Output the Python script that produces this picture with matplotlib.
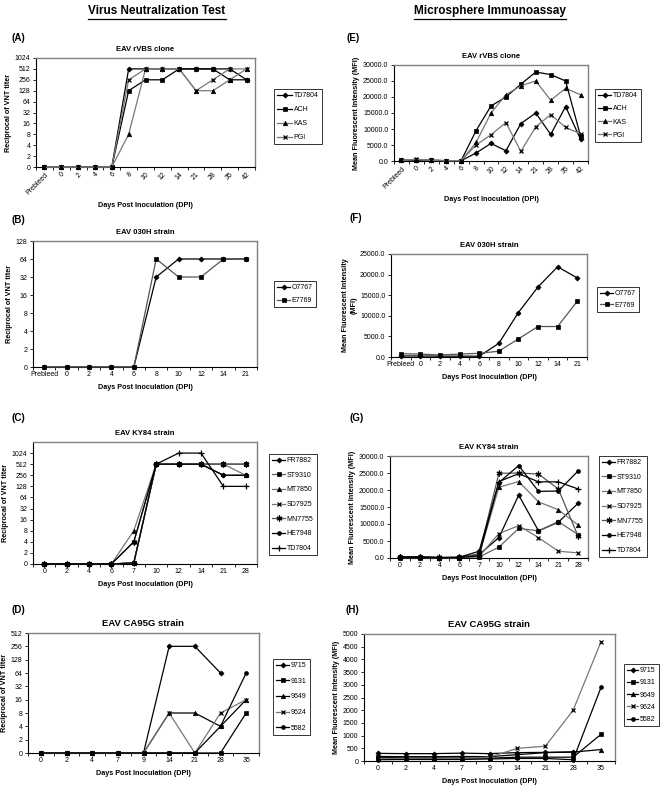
import numpy as np
import matplotlib
matplotlib.use('Agg')
import matplotlib.pyplot as plt
from matplotlib.lines import Line2D
from matplotlib.ticker import FixedLocator, FuncFormatter

plt.rcParams['font.family'] = ['Liberation Sans', 'DejaVu Sans']

nan = np.nan

# ---------------- data ----------------
cats_AE = ['Prebleed', '0', '2', '4', '6', '8', '10', '12', '14', '21', '28', '35', '42']
cats_BF = ['Prebleed', '0', '2', '4', '6', '8', '10', '12', '14', '21']
cats_CG = ['0', '2', '4', '6', '7', '10', '12', '14', '21', '28']
cats_DH = ['0', '2', '4', '7', '9', '14', '21', '28', '35']

names_AE = ['TD7804', 'ACH', 'KAS', 'PGI']
names_BF = ['O7767', 'E7769']
names_CG = ['FR7882', 'ST9310', 'MT7850', 'SD7925', 'MN7755', 'HE7948', 'TD7804']
names_DH = ['9715', '9131', '9649', '9624', '5582']

# (A) VNT, EAV rVBS clone
vnt_A_TD7804 = [0, 0, 0, 0, 0, 512, 512, 512, 512, 512, 512, 512, 256]
vnt_A_ACH = [0, 0, 0, 0, 0, 128, 256, 256, 512, 512, 512, 256, 256]
vnt_A_KAS = [0, 0, 0, 0, 0, 8, 512, 512, 512, 128, 128, 256, 512]
vnt_A_PGI = [0, 0, 0, 0, 0, 256, 512, 512, 512, 128, 256, 512, 512]

# (E) MFI, EAV rVBS clone
mfi_E_TD7804 = [200, 300, 200, 100, 100, 2500, 5500, 3200, 11700, 15000, 8300, 17000, 6800]
mfi_E_ACH = [200, 300, 200, 100, 100, 9500, 17200, 20000, 24000, 27800, 27000, 25000, 7800]
mfi_E_KAS = [200, 400, 200, 100, 100, 5800, 15000, 20700, 23500, 25000, 19000, 22700, 20700]
mfi_E_PGI = [300, 500, 300, 100, 100, 5000, 8200, 12000, 3000, 10700, 14500, 10500, 8500]

# (B) VNT, EAV 030H strain
vnt_B_O7767 = [0, 0, 0, 0, 0, 32, 64, 64, 64, 64]
vnt_B_E7769 = [0, 0, 0, 0, 0, 64, 32, 32, 64, 64]

# (F) MFI, EAV 030H strain
mfi_F_O7767 = [250, 250, 200, 200, 200, 3300, 10800, 17000, 21900, 19200]
mfi_F_E7769 = [800, 700, 500, 700, 900, 1400, 4400, 7400, 7400, 13500]

# (C) VNT, EAV KY84 strain
vnt_C_FR7882 = [0, 0, 0, 0, 0.2, 512, 512, 512, 256, 256]
vnt_C_ST9310 = [0, 0, 0, 0, 0.2, 512, 512, 512, 512, 512]
vnt_C_MT7850 = [0, 0, 0, 0, 8, 512, 512, 512, 512, 256]
vnt_C_SD7925 = [0, 0, 0, 0, 0.2, 512, 512, 512, 512, 512]
vnt_C_MN7755 = [0, 0, 0, 0, 4, 512, 512, 512, 512, 512]
vnt_C_HE7948 = [0, 0, 0, 0, 4, 512, 512, 512, 256, 256]
vnt_C_TD7804 = [0, 0, 0, 0, 0.2, 512, 1024, 1024, 128, 128]

# (G) MFI, EAV KY84 strain
mfi_G_FR7882 = [300, 300, 100, 200, 1000, 6000, 18500, 8000, 10500, 16100]
mfi_G_ST9310 = [100, 100, 100, 100, 300, 3200, 8700, 8000, 10700, 6900]
mfi_G_MT7850 = [200, 200, 100, 100, 800, 20800, 22500, 16500, 14200, 9700]
mfi_G_SD7925 = [300, 300, 100, 200, 500, 7200, 9500, 6000, 2000, 1500]
mfi_G_MN7755 = [400, 400, 200, 200, 1200, 24900, 25000, 24700, 20300, 6400]
mfi_G_HE7948 = [300, 300, 100, 200, 2000, 22200, 27200, 19600, 19700, 25600]
mfi_G_TD7804 = [200, 200, 100, 100, 700, 22500, 24800, 22400, 22400, 20300]

# (D) VNT, EAV CA95G strain
vnt_D_9715 = [0, 0, 0, 0, 0, 256, 256, 64, nan]
vnt_D_9131 = [0, 0, 0, 0, 0, 0, 0, 0, 8]
vnt_D_9649 = [0, 0, 0, 0, 0, 8, 8, 4, 16]
vnt_D_9624 = [0, 0, 0, 0, 0, 8, 0, 8, 16]
vnt_D_5582 = [0, 0, 0, 0, 0, 0, 0, 4, 64]

# (H) MFI, EAV CA95G strain
mfi_H_9715 = [300, 290, 290, 310, 290, 330, 340, 360, nan]
mfi_H_9131 = [150, 120, 120, 120, 110, 150, 150, 150, 1050]
mfi_H_9649 = [180, 170, 170, 180, 170, 250, 330, 350, 450]
mfi_H_9624 = [100, 100, 100, 100, 150, 500, 580, 2000, 4700]
mfi_H_5582 = [50, 60, 60, 60, 80, 100, 100, 50, 2900]

# ---------------- styles ----------------
AST = (6, 2, 0)
sty_AE = [('D', 'black'), ('s', 'black'), ('^', '#777777'), ('x', '#777777')]
sty_BF = [('D', 'black'), ('s', '#555555')]
sty_CG = [('D', 'black'), ('s', '#666666'), ('^', '#777777'), ('x', '#777777'),
          (AST, '#555555'), ('o', 'black'), ('+', 'black')]
sty_DH = [('D', 'black'), ('s', 'black'), ('^', 'black'), ('x', '#777777'), ('o', 'black')]
msizes = {'D': 2.6, 's': 2.8, '^': 3.2, 'x': 3.4, 'o': 2.8, '+': 4.5}

W, H = 664, 789
fig = plt.figure(figsize=(W / 100, H / 100), dpi=100)


def rect(x0, y0, x1, y1):
    return [x0 / W, 1 - y1 / H, (x1 - x0) / W, (y1 - y0) / H]


def fwd(v):
    v = np.asarray(v, dtype=float)
    return np.where(v >= 2, np.log2(np.maximum(v, 2)), v / 2)


def inv(p):
    p = np.asarray(p, dtype=float)
    return np.where(p >= 1, 2 ** np.minimum(p, 60), p * 2)


def panel(box, cats, names, series, styles, title, kind, ymax, yticks,
          leg_xy, leg_space, label, label_xy, xlabel=True, rot=0,
          title_size=5.5, ylabel=None, yfmt='%.1f', hlen=1.9):
    ax = fig.add_axes(rect(*box))
    x = np.arange(len(cats))
    if kind == 'vnt':
        ax.set_yscale('function', functions=(fwd, inv))
    for name, vals, (m, c) in zip(names, series, styles):
        ms = msizes.get(m, 4.2) if isinstance(m, str) else 4.2
        ax.plot(x, vals, color=c, lw=0.9, marker=m, ms=ms, mfc='black', mec='black',
                mew=0.9 if m in ('x', '+') or not isinstance(m, str) else 0.5,
                label=name, clip_on=False, zorder=3)
    ax.set_xlim(-0.5, len(cats) - 0.5)
    ax.set_ylim(0, ymax)
    ax.yaxis.set_major_locator(FixedLocator(yticks))
    if kind == 'vnt':
        ax.yaxis.set_major_formatter(FuncFormatter(lambda v, p: '%d' % round(v)))
    else:
        ax.yaxis.set_major_formatter(FuncFormatter(lambda v, p: yfmt % v))
    ax.yaxis.set_minor_locator(FixedLocator([]))
    ax.set_xticks(x)
    ax.set_xticklabels(cats, rotation=rot, ha='right' if rot else 'center',
                       rotation_mode='anchor' if rot else 'default')
    ax.xaxis.set_minor_locator(FixedLocator(np.arange(len(cats) + 1) - 0.5))
    ax.tick_params(axis='x', which='major', length=0, labelsize=5, pad=3)
    ax.tick_params(axis='x', which='minor', length=2, width=0.6, direction='out')
    ax.tick_params(axis='y', which='major', length=2, width=0.6, labelsize=5, pad=2)
    for s in ['left', 'bottom']:
        ax.spines[s].set_linewidth(0.8)
        ax.spines[s].set_color('black')
    for s in ['top', 'right']:
        ax.spines[s].set_linewidth(1.0)
        ax.spines[s].set_color('#808080')
    ax.set_title(title, fontsize=title_size, fontweight='bold', pad=5)
    if xlabel:
        ax.set_xlabel('Days Post Inoculation (DPI)', fontsize=5.2, fontweight='bold', labelpad=4)
    ax.set_ylabel(ylabel if ylabel else ('Reciprocal of VNT titer' if kind == 'vnt'
                                        else 'Mean Fluorescent Intensity (MFI)'),
                  fontsize=5.2, fontweight='bold', labelpad=2)
    leg = ax.legend(loc='upper left', bbox_to_anchor=(leg_xy[0] / W, 1 - leg_xy[1] / H),
                    bbox_transform=fig.transFigure, fontsize=5, frameon=True,
                    fancybox=False, edgecolor='black', handlelength=hlen,
                    labelspacing=leg_space, borderpad=0.45, handletextpad=0.2,
                    borderaxespad=0)
    leg.get_frame().set_linewidth(0.7)
    fig.text(label_xy[0] / W, 1 - label_xy[1] / H, label, fontsize=7, fontweight='bold',
             ha='left', va='center')
    return ax


vnt_ticks_10 = [0, 2, 4, 8, 16, 32, 64, 128, 256, 512, 1024]

# (A)
panel((36, 58, 255, 167), cats_AE, names_AE,
      [vnt_A_TD7804, vnt_A_ACH, vnt_A_KAS, vnt_A_PGI], sty_AE,
      'EAV rVBS clone', 'vnt', 1024, vnt_ticks_10, (274, 89), 1.0,
      '(A)', (11, 38), rot=45, hlen=2.2)
# (E)
panel((394, 65, 588, 161), cats_AE, names_AE,
      [mfi_E_TD7804, mfi_E_ACH, mfi_E_KAS, mfi_E_PGI], sty_AE,
      'EAV rVBS clone', 'mfi', 30000, list(range(0, 30001, 5000)), (595, 89), 0.9,
      '(E)', (347, 38), rot=45)
# (B)
panel((33, 241, 257, 367), cats_BF, names_BF,
      [vnt_B_O7767, vnt_B_E7769], sty_BF,
      'EAV 030H strain', 'vnt', 128, [0, 2, 4, 8, 16, 32, 64, 128], (274, 281), 0.85,
      '(B)', (11, 220))
# (F)
panel((391, 254, 587, 357), cats_BF, names_BF,
      [mfi_F_O7767, mfi_F_E7769], sty_BF,
      'EAV 030H strain', 'mfi', 25000, list(range(0, 25001, 5000)), (597, 287), 0.65,
      '(F)', (349, 218), ylabel='Mean Fluorescent Intensity\n(MFI)')
# (C)
panel((33, 442, 257, 564), cats_CG, names_CG,
      [vnt_C_FR7882, vnt_C_ST9310, vnt_C_MT7850, vnt_C_SD7925, vnt_C_MN7755,
       vnt_C_HE7948, vnt_C_TD7804], sty_CG,
      'EAV KY84 strain', 'vnt', 2048, vnt_ticks_10, (269, 454), 1.1,
      '(C)', (11, 418))
# (G)
panel((390, 456, 588, 558), cats_CG, names_CG,
      [mfi_G_FR7882, mfi_G_ST9310, mfi_G_MT7850, mfi_G_SD7925, mfi_G_MN7755,
       mfi_G_HE7948, mfi_G_TD7804], sty_CG,
      'EAV KY84 strain', 'mfi', 30000, list(range(0, 30001, 5000)), (599, 456), 1.1,
      '(G)', (349, 418))
# (D)
panel((28, 633, 259, 753), cats_DH, names_DH,
      [vnt_D_9715, vnt_D_9131, vnt_D_9649, vnt_D_9624, vnt_D_5582], sty_DH,
      'EAV CA95G strain', 'vnt', 512, [0, 2, 4, 8, 16, 32, 64, 128, 256, 512], (273, 659), 1.25,
      '(D)', (11, 610), title_size=6.8)
# (H)
panel((364, 634, 615, 761), cats_DH, names_DH,
      [mfi_H_9715, mfi_H_9131, mfi_H_9649, mfi_H_9624, mfi_H_5582], sty_DH,
      'EAV CA95G strain', 'mfi', 5000, list(range(0, 5001, 500)), (624, 664), 0.75,
      '(H)', (346, 610), title_size=6.8, yfmt='%d', hlen=1.6)

# column headers
hdrs = []
for txt, xc in [('Virus Neutralization Test', 157), ('Microsphere Immunoassay', 490)]:
    hdrs.append(fig.text(xc / W, 1 - 11 / H, txt, fontsize=8.5, fontweight='bold',
                         ha='center', va='center'))
fig.canvas.draw()
r = fig.canvas.get_renderer()
for t in hdrs:
    bb = t.get_window_extent(r).transformed(fig.transFigure.inverted())
    fig.add_artist(Line2D([bb.x0, bb.x1], [bb.y0 - 0.002, bb.y0 - 0.002],
                          transform=fig.transFigure, color='black', lw=0.9))

fig.savefig('out.png', dpi=100)
